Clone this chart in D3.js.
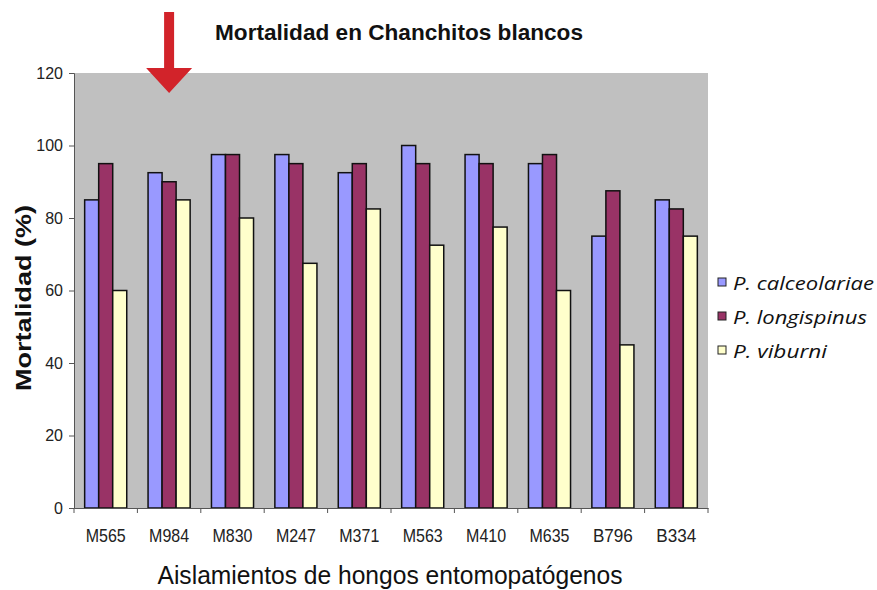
<!DOCTYPE html>
<html>
<head>
<meta charset="utf-8">
<script src="https://cdn.jsdelivr.net/npm/d3@7"></script>
<style>
  html, body { margin: 0; padding: 0; background: #ffffff; }
  svg { display: block; }
</style>
</head>
<body>
<svg id="chart" width="877" height="590"></svg>
<script>
// Fungal isolates tested against three mealybug species
const categories = ["M565", "M984", "M830", "M247", "M371", "M563", "M410", "M635", "B796", "B334"];
const seriesNames = ["P. calceolariae", "P. longispinus", "P. viburni"];
const calceolariae = [85, 92.5, 97.5, 97.5, 92.5, 100, 97.5, 95, 75, 85];
const longispinus  = [95, 90, 97.5, 95, 95, 95, 95, 97.5, 87.5, 82.5];
const viburni      = [60, 85, 80, 67.5, 82.5, 72.5, 77.5, 60, 45, 75];
const yTicks = [0, 20, 40, 60, 80, 100, 120];
const seriesColors = ["#9999ff", "#993366", "#ffffcc"];

const seriesValues = [calceolariae, longispinus, viburni];
const rows = categories.map((c, i) => ({
  cat: c,
  vals: seriesValues.map((s, k) => ({ key: k, value: s[i] }))
}));

const svg = d3.select("#chart");
const plot = { left: 74, right: 708, top: 73, bottom: 508 };

const x = d3.scaleBand().domain(categories).range([plot.left, plot.right]).paddingInner(0).paddingOuter(0);
const xSeries = d3.scaleBand().domain(d3.range(seriesNames.length)).range([0, x.bandwidth()]).paddingInner(0).paddingOuter(0.76);
const y = d3.scaleLinear().domain([0, 120]).range([plot.bottom, plot.top]);

// plot area
svg.append("rect")
  .attr("x", plot.left).attr("y", plot.top)
  .attr("width", plot.right - plot.left).attr("height", plot.bottom - plot.top)
  .attr("fill", "#c0c0c0");

// bars
const groups = svg.append("g").selectAll("g").data(rows).join("g")
  .attr("transform", d => `translate(${x(d.cat)},0)`);
groups.selectAll("rect").data(d => d.vals).join("rect")
  .attr("x", d => xSeries(d.key))
  .attr("y", d => y(d.value))
  .attr("width", xSeries.bandwidth())
  .attr("height", d => y(0) - y(d.value))
  .attr("fill", d => seriesColors[d.key])
  .attr("stroke", "#111111")
  .attr("stroke-width", 1.5);

// y axis
const yAxis = d3.axisLeft(y).tickValues(yTicks).tickSize(5).tickPadding(6);
const gy = svg.append("g").attr("transform", `translate(${plot.left},0)`).call(yAxis);
gy.select(".domain").attr("stroke", "#555555");
gy.selectAll(".tick line").attr("stroke", "#555555");
gy.selectAll(".tick text")
  .attr("font-family", "Liberation Sans, Arial, sans-serif")
  .attr("font-size", 16).attr("fill", "#222222");

// x axis with ticks at category boundaries
const xAxis = d3.axisBottom(x).tickSize(0).tickPadding(21);
const gx = svg.append("g").attr("transform", `translate(0,${plot.bottom})`).call(xAxis);
gx.select(".domain").attr("stroke", "#555555");
gx.selectAll(".tick text")
  .attr("font-family", "Liberation Sans, Arial, sans-serif")
  .attr("font-size", 19).attr("fill", "#222222")
  .attr("textLength", 40).attr("lengthAdjust", "spacingAndGlyphs");
gx.selectAll("line.bound").data(d3.range(categories.length + 1)).join("line")
  .attr("class", "bound")
  .attr("x1", i => plot.left + i * x.step()).attr("x2", i => plot.left + i * x.step())
  .attr("y1", 0).attr("y2", 5)
  .attr("stroke", "#555555");

// title
svg.append("text")
  .attr("x", 399).attr("y", 40)
  .attr("text-anchor", "middle")
  .attr("font-family", "Liberation Sans, Arial, sans-serif")
  .attr("font-weight", "bold").attr("font-size", 22)
  .attr("textLength", 368).attr("lengthAdjust", "spacingAndGlyphs")
  .attr("fill", "#111111")
  .text("Mortalidad en Chanchitos blancos");

// y label
svg.append("text")
  .attr("transform", "translate(31,298) rotate(-90)")
  .attr("text-anchor", "middle")
  .attr("font-family", "Liberation Sans, Arial, sans-serif")
  .attr("font-weight", "bold").attr("font-size", 22)
  .attr("textLength", 186).attr("lengthAdjust", "spacingAndGlyphs")
  .attr("fill", "#111111")
  .text("Mortalidad (%)");

// x label
svg.append("text")
  .attr("x", 390).attr("y", 584)
  .attr("text-anchor", "middle")
  .attr("font-family", "Liberation Sans, Arial, sans-serif")
  .attr("font-size", 25)
  .attr("textLength", 465).attr("lengthAdjust", "spacingAndGlyphs")
  .attr("fill", "#111111")
  .text("Aislamientos de hongos entomopatógenos");

// legend
const legendWidths = [141, 134, 94];
const legend = svg.append("g").selectAll("g").data(seriesNames).join("g")
  .attr("transform", (d, i) => `translate(718,${290 + i * 34})`);
legend.append("rect")
  .attr("x", 0).attr("y", -12).attr("width", 8).attr("height", 8)
  .attr("fill", (d, i) => seriesColors[i])
  .attr("stroke", "#222222").attr("stroke-width", 1);
legend.append("text")
  .attr("x", 15).attr("y", 0)
  .attr("font-family", "Open Sans, sans-serif")
  .attr("font-style", "italic").attr("font-size", 19)
  .attr("textLength", (d, i) => legendWidths[i]).attr("lengthAdjust", "spacingAndGlyphs")
  .attr("fill", "#111111")
  .text(d => d);

// red pointer arrow above M984
const arrowX = x("M984") + x.bandwidth() / 2;
svg.append("path")
  .attr("d", `M${arrowX - 5},12 L${arrowX + 5},12 L${arrowX + 5},68 L${arrowX + 23},68 L${arrowX},93 L${arrowX - 23},68 L${arrowX - 5},68 Z`)
  .attr("fill", "#d2232a");
</script>
</body>
</html>
